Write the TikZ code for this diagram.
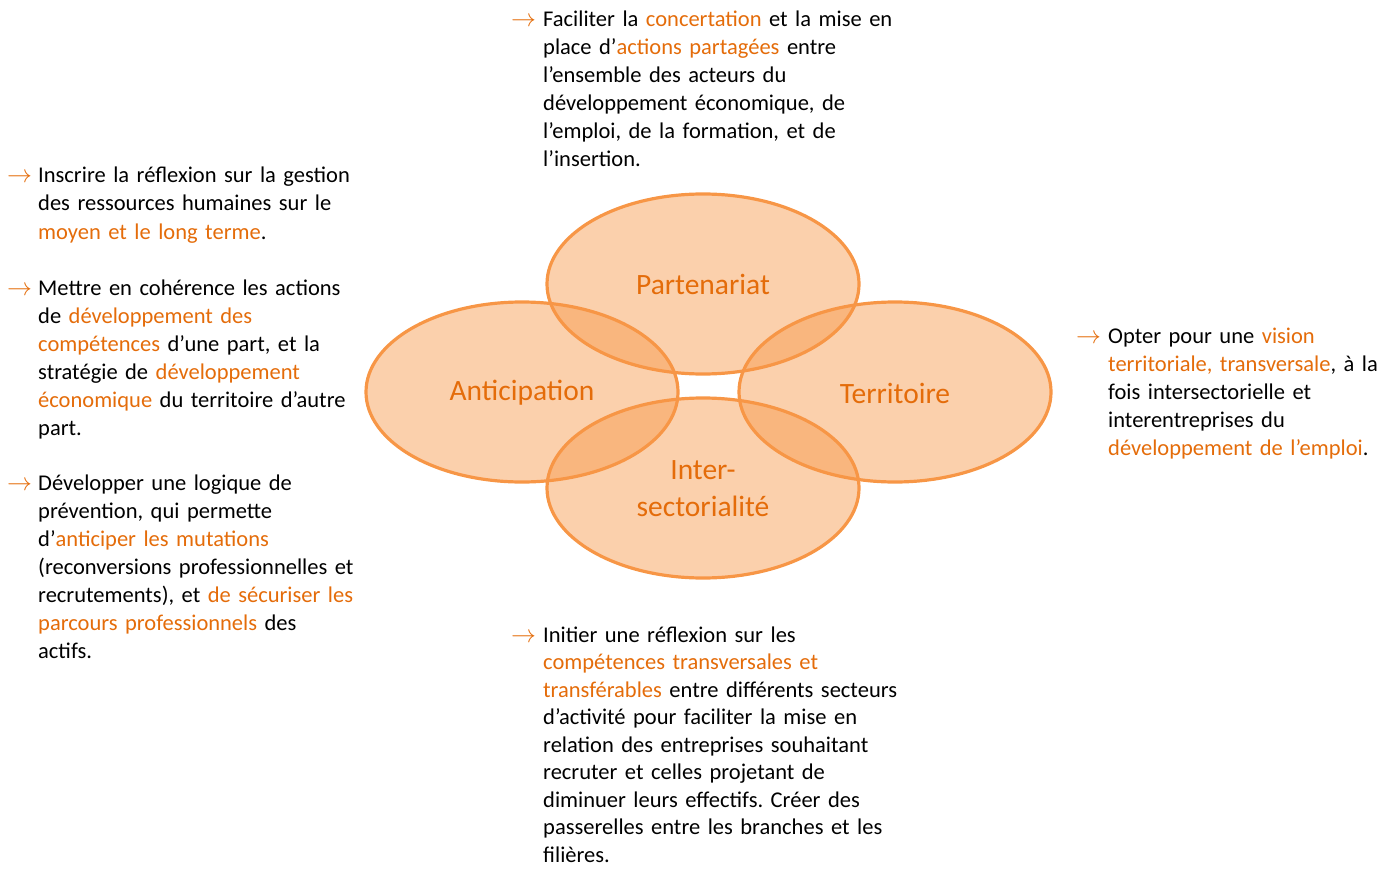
\documentclass[tikz,border=0pt]{standalone}
\usepackage{fontspec}
\setmainfont{Carlito}[WordSpace=0.75]
\usepackage{xcolor}
\definecolor{txtorange}{HTML}{E46C0A}
\definecolor{ellline}{HTML}{F79646}
\newcommand{\hl}[1]{\textcolor{txtorange}{#1}}
\frenchspacing
\tikzset{
  body/.style={anchor=base west, inner sep=0pt, align=left, text width=400pt, font=\fontsize{22.5}{28}\selectfont},
  arrowmark/.style={anchor=base west, inner sep=0pt, text=txtorange, font=\fontsize{23}{28}\selectfont},
  ellfill/.style={fill=ellline, fill opacity=0.45, draw=none},
  ellline/.style={draw=ellline, line width=3.2pt},
  elllabel/.style={text=txtorange, align=center, font=\fontsize{29.5}{37}\selectfont}
}
\begin{document}
\begin{tikzpicture}[x=1pt,y=-1pt]
\useasboundingbox (0,0) rectangle (1397,869);
% ellipses
\foreach \cx/\cy in {703/284, 522/392, 895/392, 703/488}{
  \fill[ellfill] (\cx,\cy) ellipse [x radius=156pt, y radius=90pt];
}
\foreach \cx/\cy in {703/284, 522/392, 895/392, 703/488}{
  \draw[ellline] (\cx,\cy) ellipse [x radius=156pt, y radius=90pt];
}
\node[elllabel] (part) at (703,284) {Partenariat};
\node[elllabel] (antic) at (522,393) {Anticipation};
\node[elllabel] (terr) at (895,393) {Territoire};
\node[elllabel] (inter) at (703,489) {Inter-\\sectorialité};
% top block
\node[arrowmark] (a1) at (511,27) {$\rightarrow$};
\node[body] (t1) at (543,27) {Faciliter la \hl{concertation} et la mise en\\
place d’\hl{actions partagées} entre\\
l’ensemble des acteurs du\\
développement économique, de\\
l’emploi, de la formation, et de\\
l’insertion.};
% left blocks
\node[arrowmark] (a2) at (7,183) {$\rightarrow$};
\node[body] (t2) at (38,183) {Inscrire la réflexion sur la gestion\\
des ressources humaines sur le\\
\hl{moyen et le long terme}.};
\node[arrowmark] (a3) at (7,295) {$\rightarrow$};
\node[body] (t3) at (38,295) {Mettre en cohérence les actions\\
de \hl{développement des}\\
\hl{compétences} d’une part, et la\\
stratégie de \hl{développement}\\
\hl{économique} du territoire d’autre\\
part.};
\node[arrowmark] (a4) at (7,490) {$\rightarrow$};
\node[body] (t4) at (38,490) {Développer une logique de\\
prévention, qui permette\\
d’\hl{anticiper les mutations}\\
(reconversions professionnelles et\\
recrutements), et \hl{de sécuriser les}\\
\hl{parcours professionnels} des\\
actifs.};
% right block
\node[arrowmark] (a5) at (1076,343) {$\rightarrow$};
\node[body] (t5) at (1108,343) {Opter pour une \hl{vision}\\
\hl{territoriale, transversale}, à la\\
fois intersectorielle et\\
interentreprises du\\
\hl{développement de l’emploi}.};
% bottom block
\node[arrowmark] (a6) at (511,642) {$\rightarrow$};
\node[body, font=\fontsize{22.5}{27.5}\selectfont] (t6) at (543,642) {Initier une réflexion sur les\\
\hl{compétences transversales et}\\
\hl{transférables} entre différents secteurs\\
d’activité pour faciliter la mise en\\
relation des entreprises souhaitant\\
recruter et celles projetant de\\
diminuer leurs effectifs. Créer des\\
passerelles entre les branches et les\\
filières.};
\end{tikzpicture}
\end{document}
